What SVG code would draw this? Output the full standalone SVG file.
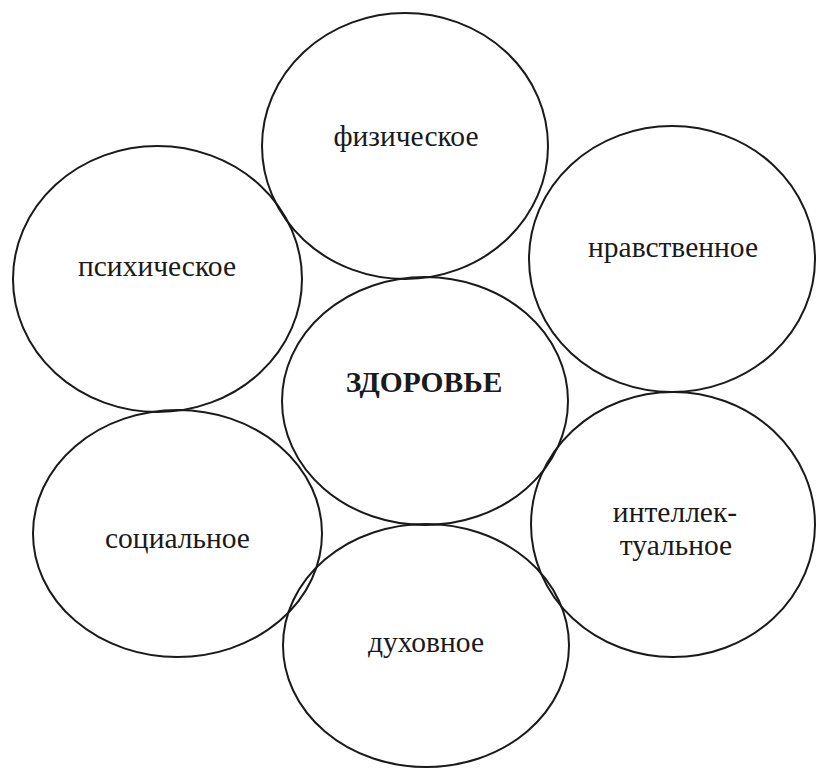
<svg xmlns="http://www.w3.org/2000/svg" width="816" height="769" viewBox="0 0 816 769">
  <style>
    .c { fill: none; stroke: #1a1a1a; stroke-width: 2; }
    .t { font-family: "Liberation Serif", "Times New Roman", serif; font-size: 29.5px; fill: #1a1a1a; text-anchor: middle; }
    .b { font-weight: bold; }
  </style>
  <rect x="0" y="0" width="816" height="769" fill="#ffffff"/>
  <g id="connectors"></g>
  <g id="node-fizicheskoe">
    <ellipse class="c" cx="405" cy="146" rx="143" ry="133"/>
    <text class="t" x="406" y="146">физическое</text>
  </g>
  <g id="node-psikhicheskoe">
    <ellipse class="c" cx="157.5" cy="279" rx="144.5" ry="133"/>
    <text class="t" x="157" y="276">психическое</text>
  </g>
  <g id="node-nravstvennoe">
    <ellipse class="c" cx="672" cy="259" rx="143" ry="133"/>
    <text class="t" x="673" y="257">нравственное</text>
  </g>
  <g id="node-zdorovie">
    <ellipse class="c" cx="425" cy="401" rx="143" ry="124"/>
    <text class="t b" x="424" y="392">ЗДОРОВЬЕ</text>
  </g>
  <g id="node-sotsialnoe">
    <ellipse class="c" cx="177.5" cy="533.5" rx="144.5" ry="123.5"/>
    <text class="t" x="177.5" y="548">социальное</text>
  </g>
  <g id="node-intellektualnoe">
    <ellipse class="c" cx="673" cy="524.5" rx="142" ry="132.5"/>
    <text class="t" x="675" y="522">интеллек-</text>
    <text class="t" x="676" y="555">туальное</text>
  </g>
  <g id="node-dukhovnoe">
    <ellipse class="c" cx="426" cy="645.5" rx="143" ry="121.5"/>
    <text class="t" x="426" y="652">духовное</text>
  </g>
</svg>
